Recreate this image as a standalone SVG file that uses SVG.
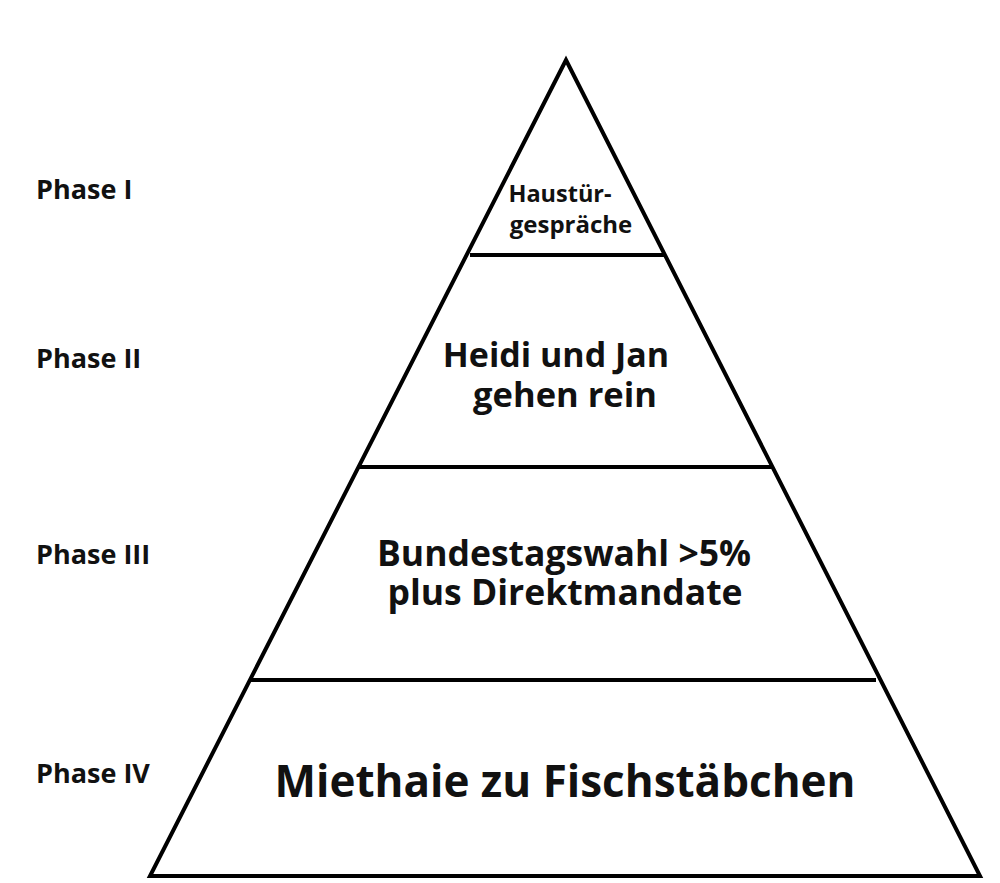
<svg xmlns="http://www.w3.org/2000/svg" width="1000" height="883" viewBox="0 0 1000 883">
<style>
.ln{stroke:#000;stroke-width:4;fill:none;stroke-linejoin:miter;stroke-linecap:butt}
text{font-family:"Open Sans","Noto Sans","Liberation Sans",sans-serif;font-weight:700;fill:#111}
.ph{font-size:27px}
.c{text-anchor:middle}
</style>
<rect width="1000" height="883" fill="#fff"/>
<g id="pyramid">
<path class="ln" d="M566 60 L980 876 L150 876 Z"/>
</g>
<g id="connectors">
<line class="ln" x1="470" y1="255" x2="664" y2="255"/>
<line class="ln" x1="359" y1="467" x2="772" y2="467"/>
<line class="ln" x1="251" y1="680" x2="876" y2="680"/>
</g>
<g id="tier1"><text class="c" x="560" y="202" font-size="23.5">Haustür-</text><text class="c" x="571" y="233" font-size="24">gespräche</text></g>
<g id="tier2"><text class="c" x="556" y="367" font-size="34">Heidi und Jan</text><text class="c" x="565" y="407" font-size="34.5">gehen rein</text></g>
<g id="tier3"><text class="c" x="564" y="566" font-size="35.5">Bundestagswahl &gt;5%</text><text class="c" x="565" y="605" font-size="35.5">plus Direktmandate</text></g>
<g id="tier4"><text class="c" x="565" y="797" font-size="44">Miethaie zu Fischstäbchen</text></g>
<g id="phase1"><text class="ph" x="36" y="199">Phase I</text></g>
<g id="phase2"><text class="ph" x="36" y="368">Phase II</text></g>
<g id="phase3"><text class="ph" x="36" y="564">Phase III</text></g>
<g id="phase4"><text class="ph" x="36" y="783">Phase IV</text></g>
</svg>
